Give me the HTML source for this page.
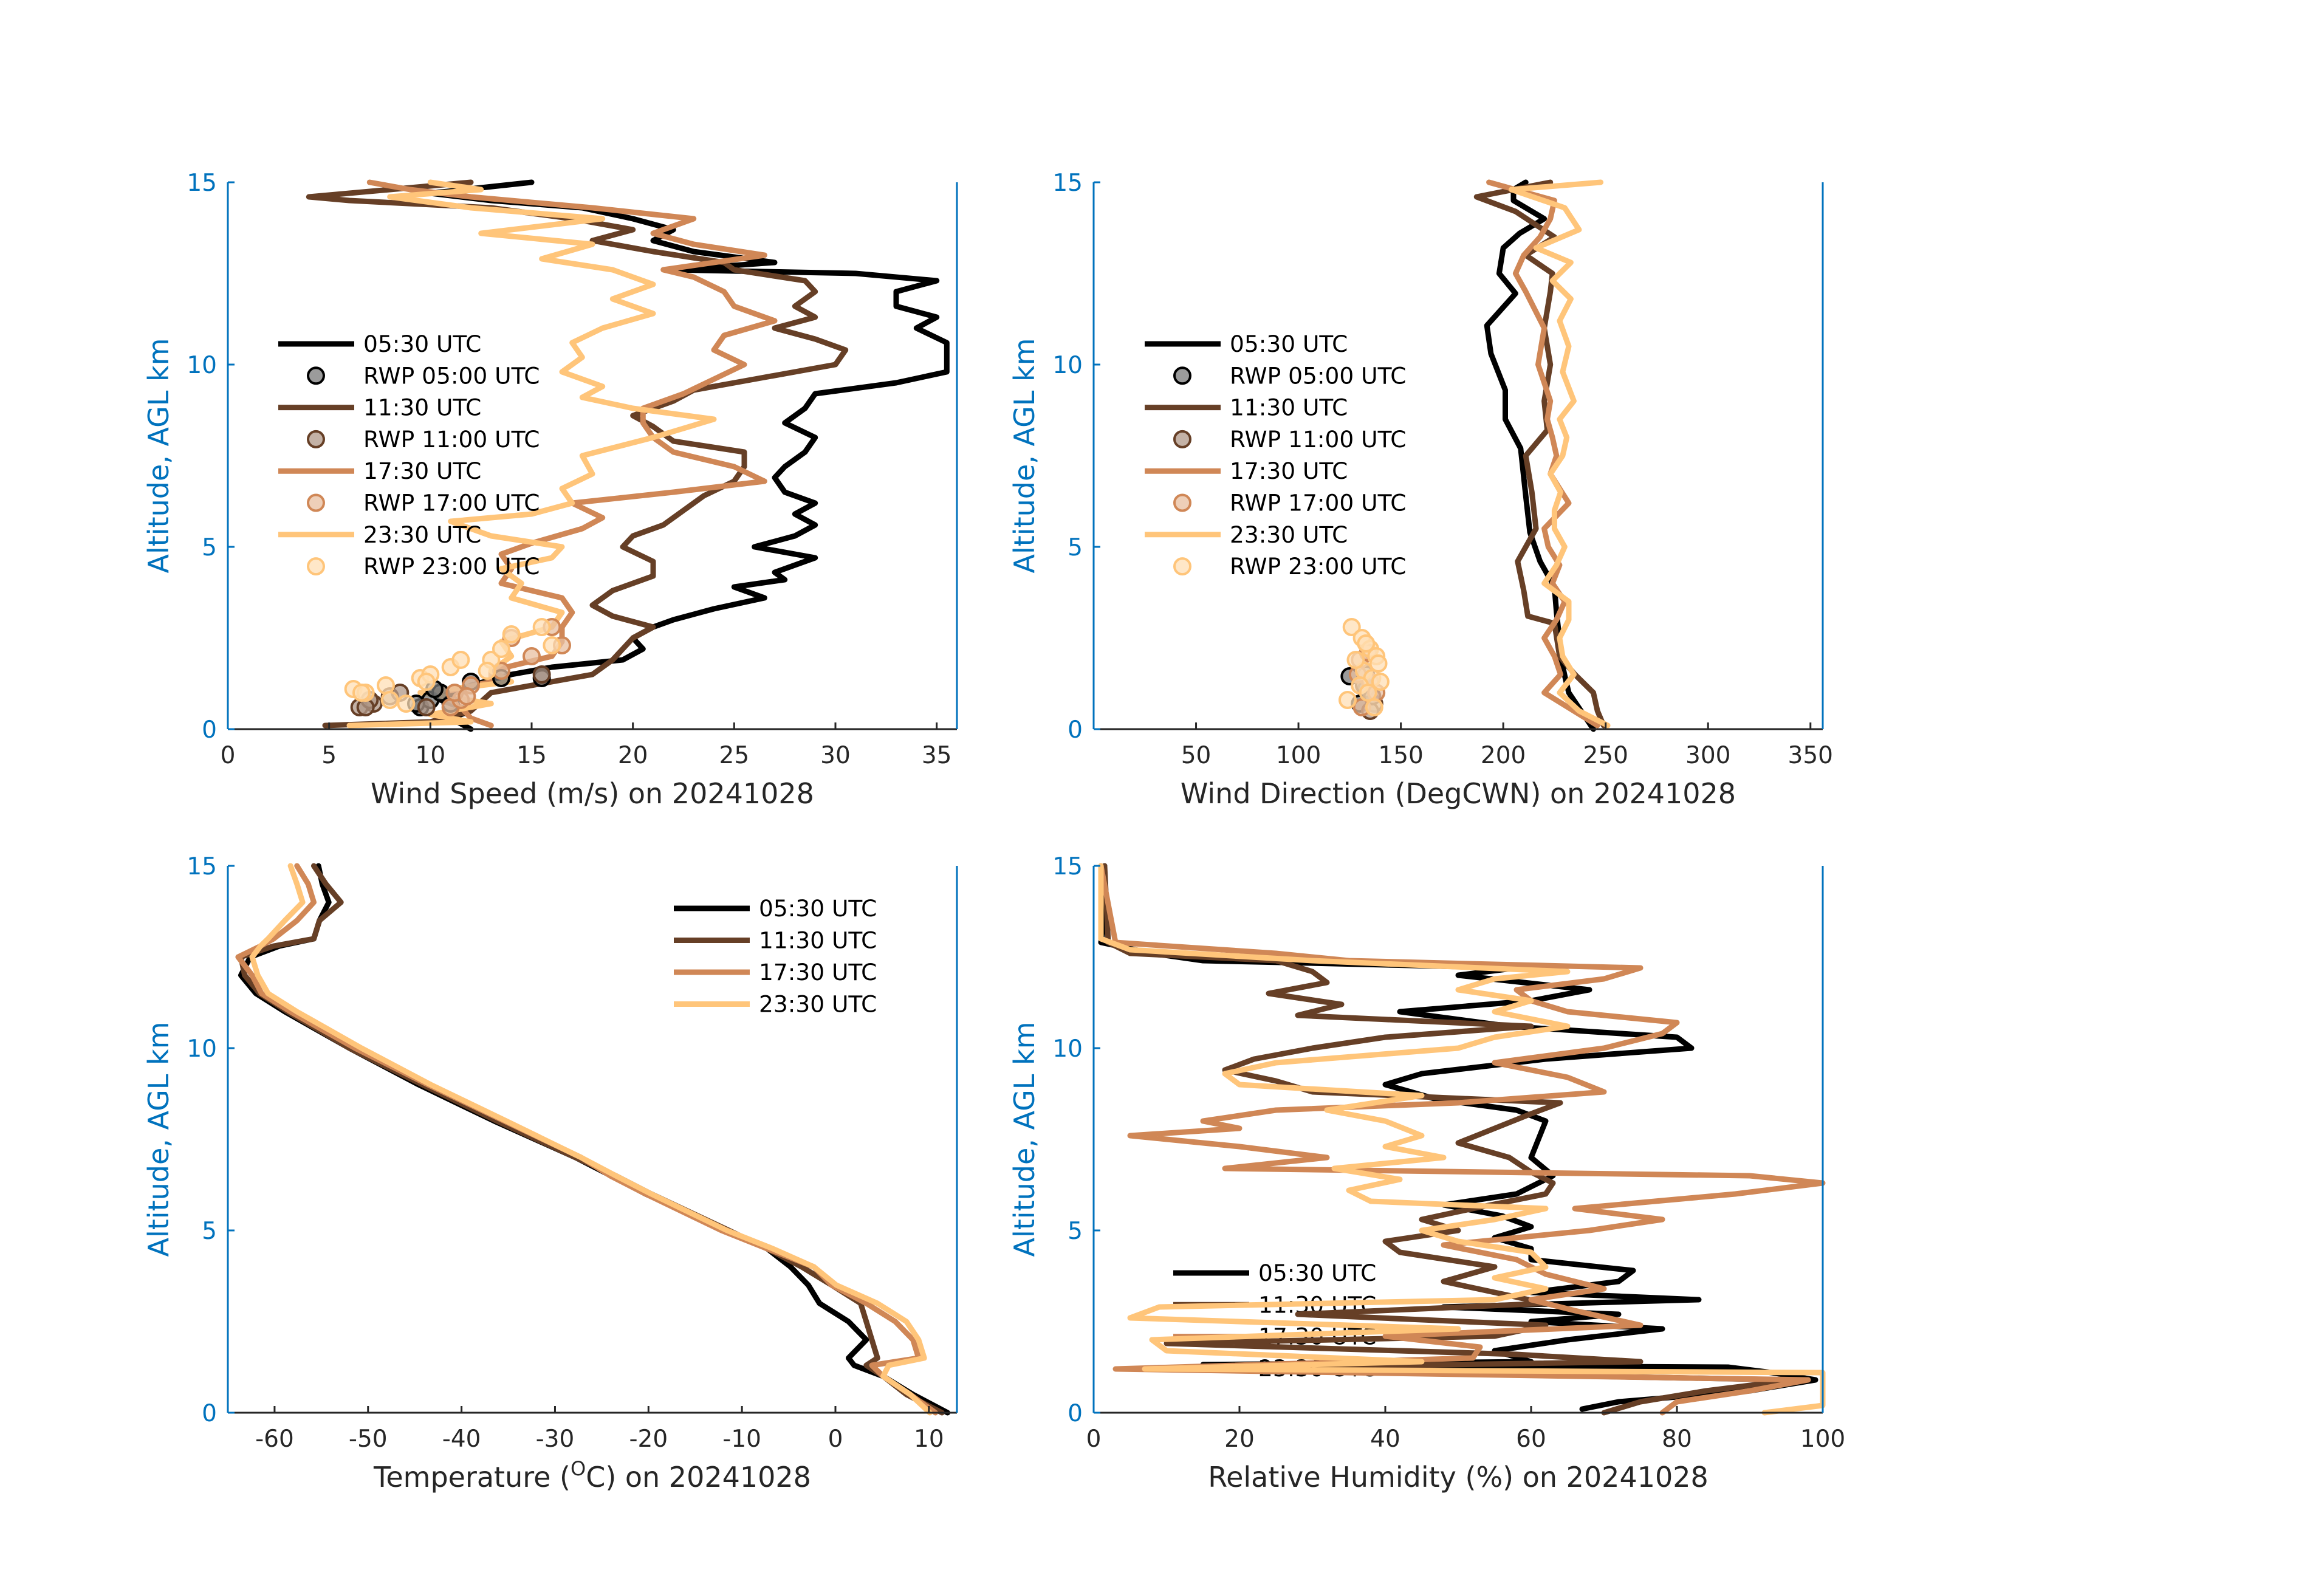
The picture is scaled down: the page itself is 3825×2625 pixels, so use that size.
<!DOCTYPE html>
<html><head><meta charset="utf-8">
<style>
html,body{margin:0;padding:0;background:#fff;}
svg{display:block;font-family:"DejaVu Sans","Liberation Sans",sans-serif;}
</style></head>
<body>
<svg id="fig" width="3825" height="2625" viewBox="0 0 3825 2625" xmlns="http://www.w3.org/2000/svg">
<rect width="3825" height="2625" fill="#fff"/>
</svg>
<script>
// ---- Series colors ----
const C0530='#000000', C1130='#663f26', C1730='#d08756', C2330='#ffc57a';

// ---- Wind speed (m/s) ----
const wsAlt0530=[0,0.3,0.5,0.8,1.2,1.5,1.7,1.9,2.2,2.5,2.8,3.0,3.3,3.6,3.9,4.1,4.3,4.7,5.0,5.3,5.6,5.9,6.2,6.5,6.9,7.2,7.6,8.0,8.4,8.8,9.2,9.5,9.8,10.2,10.6,11.0,11.3,11.6,12.0,12.3,12.5,12.6,12.8,13.1,13.4,13.7,14.0,14.3,14.5,14.7,15.0];
const wsVal0530=[12,11,12,10.5,12,14,16,19.5,20.5,20,21,22,24,26.5,25,27.5,27,29,26,28,29,28,29,27.5,27,27.5,28.5,29,27.5,28.5,29,33,35.5,35.5,35.5,34,35,33,33,35,31,22,27,23,21,22,20,17.5,13,10,15];
const wsAlt1130=[0.1,0.2,0.5,1.0,1.2,1.5,1.9,2.2,2.5,2.8,3.1,3.4,3.8,4.2,4.6,5.0,5.3,5.6,6.0,6.4,6.8,7.2,7.6,7.9,8.3,8.6,9.0,9.3,9.6,10.0,10.4,10.7,11.0,11.3,11.6,12.0,12.3,12.6,12.8,13.1,13.4,13.7,14.0,14.3,14.5,14.6,14.8,15.0];
const wsVal1130=[4.8,10,12,13,15,18,19,19.5,20,21,19,18,19,21,21,19.5,20,21.5,22.5,23.5,25,25.5,25.5,22,21,20,22,23,26,30,30.5,29,27,29,28,29,28.5,25,24.5,21,18,20,17,13,6,4,8,12];
const wsAlt1730=[0.1,0.3,0.6,1.0,1.3,1.6,2.0,2.4,2.8,3.2,3.6,4.0,4.4,4.8,5.1,5.5,5.8,6.2,6.5,6.8,7.2,7.6,8.0,8.4,8.8,9.2,9.6,10.0,10.4,10.8,11.2,11.6,12.0,12.4,12.6,13.0,13.3,13.6,14.0,14.3,14.6,14.8,15.0];
const wsVal1730=[13,12,11.5,10.5,13,13,16,16.5,16.5,17,16.5,13.5,14,13.5,15,17.5,18.5,17,22,26.5,25,22,21,20.5,20.5,22.5,24,25.5,24,24.5,27,25,24.5,23,21.5,26.5,23,21,23,18,12,9,7];
const wsAlt2330=[0.1,0.2,0.4,0.7,1.0,1.3,1.6,2.0,2.4,2.8,3.2,3.6,4.0,4.4,4.7,5.0,5.3,5.7,5.9,6.2,6.6,7.0,7.5,8.0,8.5,8.8,9.1,9.4,9.8,10.2,10.6,11.0,11.4,11.8,12.2,12.6,12.9,13.3,13.6,14.0,14.3,14.6,14.8,15.0];
const wsVal2330=[6,12,10,13,9.5,14,13,14,13.5,16,16.5,14,14.5,13.5,16,16.5,13,11,15,17,16.5,18,17.5,21,24,20,17.5,18.5,16.5,17.5,17,18.5,21,19,21,19,15.5,18,12.5,18.5,12,8,12.5,10];
// RWP wind speed
const rwpSpd0500=[9.5,10,11,10.5,12,13.5,15.5,10.2,9.3], rwpSAlt0500=[0.6,0.8,0.7,1.0,1.3,1.4,1.4,1.1,0.7];
const rwpSpd1100=[6.5,7.2,8,8.5,7,6.8,15.5,9.8], rwpSAlt1100=[0.6,0.7,0.9,1.0,0.8,0.6,1.5,0.6];
const rwpSpd1700=[11,11.5,11.2,12,13.5,15,16.5,14,16,11.8], rwpSAlt1700=[0.6,0.8,1.0,1.2,1.6,2.0,2.3,2.5,2.8,0.9];
const rwpSpd2300=[6.2,6.8,7.8,8,9.5,10,11,11.5,13,13.5,14,15.5,16,8.8,12.8,6.6,9.8], rwpSAlt2300=[1.1,1.0,1.2,0.8,1.4,1.5,1.7,1.9,1.9,2.2,2.6,2.8,2.3,0.7,1.6,1.0,1.3];

// ---- Wind direction (deg) ----
const wdAlt0530=[0,0.5,1.0,1.47,2.0,2.45,3.2,3.9,4.6,5.4,6.4,7.7,8.5,9.3,10.3,11.07,11.95,12.5,13.2,13.6,14.0,14.5,14.8,15.0];
const wdVal0530=[244,238,232,230,228,227.5,226,225,218,213,211,208.5,201,201,194,192,206,198,200,208,220,205,205,211];
const wdAlt1130=[0.1,0.5,1.0,1.5,2.0,2.9,3.1,3.8,4.6,5.5,6.5,7.5,8.2,9.0,10.0,11.0,12.0,12.5,13.0,13.5,14.2,14.6,15.0];
const wdVal1130=[249,246,244,235,227.5,225,212,210,207,216,214,211,221.5,220,223,220,223,224,211,225,206,187,223];
const wdAlt1730=[0.1,0.5,1.0,1.5,2.0,2.5,3.0,3.5,4.0,4.5,5.0,5.5,6.2,7.0,7.5,8.0,8.5,9.0,10.0,11.0,12.0,12.5,13.0,13.5,14.0,14.5,15.0];
const wdVal1730=[246,234.5,220,228,225,220,226,230,224,227.5,222,220,232,223,226,224,221.5,223,217,220,211,206,210,218,223,225,193];
const wdAlt2330=[0.1,0.5,1.0,1.5,2.0,2.5,3.0,3.5,4.0,4.5,5.0,5.5,6.0,6.5,7.0,7.5,8.0,8.5,9.0,9.8,10.5,11.2,11.8,12.3,12.8,13.2,13.7,14.3,14.8,15.0];
const wdVal2330=[251,237,227.5,234.5,229,227.5,232,232,220,226,230,225,225,228,223,229,231,227.5,234.5,229,232,227.5,233,224,233,216,237,230,204,247.6];
// RWP direction
const rwpDir0500=[125,130,133], rwpDAlt0500=[1.45,0.7,1.1];
const rwpDir1100=[132,137,135,133,136], rwpDAlt1100=[1.2,0.7,0.5,1.5,0.9];
const rwpDir1700=[130,135,131,138,129,134], rwpDAlt1700=[1.9,1.3,0.6,1.0,1.5,2.1];
const rwpDir2300=[126,131,135,138,139,132,136,130,124,137,134,128,133,140], rwpDAlt2300=[2.8,2.5,2.2,2.0,1.8,1.6,1.4,1.2,0.8,0.6,1.0,1.9,2.35,1.3];

// ---- Temperature (C) ----
const tAlt=[0,0.5,1.0,1.3,1.5,2.0,2.5,3.0,3.5,4.0,4.5,5.0,6.0,6.5,7.0,8.0,9.0,10.0,11.0,11.5,12.0,12.5,12.8,13.0,13.5,14.0,14.5,15.0];
const tVal0530=[12,8.3,5.1,2.0,1.4,3.3,1.4,-1.7,-2.9,-4.8,-7.3,-11.6,-20.3,-24,-27.8,-36.5,-44.6,-52,-58.9,-62,-63.6,-62.6,-59.5,-55.8,-55.2,-54.2,-54.9,-55.3];
const tVal1130=[11.4,7.6,5.1,3.3,4.5,3.9,3.3,2.7,-0.4,-3.6,-7.3,-11.4,-19.7,-23.5,-27.8,-36.2,-44.2,-52,-58.6,-61.6,-63.2,-63.6,-60.1,-55.8,-55.2,-52.9,-54.5,-55.8];
const tVal1730=[10.7,8.0,5.1,3.9,8.9,8.3,6.4,3.3,-0.4,-2.3,-7.3,-12.2,-20.3,-24.1,-27.2,-35.4,-43.6,-51.4,-58.3,-61.4,-62.4,-63.9,-61.5,-60.1,-57.6,-55.8,-56.4,-57.6];
const tVal2330=[10.1,8.0,5.1,5.7,9.5,8.9,7.6,4.5,0.1,-2.3,-6.7,-11.6,-19.7,-23.5,-27.2,-35.2,-43.3,-50.7,-57.6,-60.7,-61.8,-62.4,-61.5,-60.7,-58.9,-57.0,-57.6,-58.3];

// ---- Relative humidity (%) ----
const rhAlt0530=[0.1,0.3,0.6,0.9,1.1,1.25,1.32,1.4,1.7,2.0,2.3,2.5,2.7,2.9,3.1,3.3,3.6,3.9,4.2,4.5,4.8,5.1,5.4,5.7,6.0,6.5,7.0,7.5,8.0,8.3,8.6,9.0,9.3,9.7,10.0,10.3,10.6,11.0,11.3,11.6,12.0,12.2,12.4,12.6,12.9,13.5,15];
const rhVal0530=[67,72,90,99,93,87,15,60,55,65,78,60,72,48,83,60,72,74,60,60,55,60,56,48,58,63,60,61,62,58,47,40,45,62,82,80,57,42,60,68,50,58,15,8,1,1.5,1.5];
const rhAlt1130=[0,0.3,0.6,0.9,1.2,1.4,1.6,1.9,2.1,2.4,2.7,3.0,3.3,3.6,4.0,4.4,4.7,5.0,5.3,5.6,6.0,6.3,6.6,7.0,7.4,7.8,8.2,8.5,8.8,9.1,9.4,9.7,10.0,10.3,10.6,10.9,11.2,11.5,11.8,12.1,12.4,12.6,12.9,15];
const rhVal1130=[70,75,84,96,12,75,58,10,55,62,28,62,55,48,55,42,40,50,45,52,62,63,60,57,50,55,60,64,30,25,18,22,30,40,60,28,34,24,32,30,25,5,2,1.5];
const rhAlt1730=[0,0.3,0.6,0.9,1.2,1.5,1.8,2.1,2.4,2.8,3.1,3.4,3.8,4.2,4.6,5.0,5.3,5.6,6.0,6.3,6.5,6.7,7.0,7.3,7.6,7.8,8.0,8.3,8.5,8.8,9.2,9.6,10.0,10.4,10.7,11.0,11.3,11.6,11.9,12.2,12.4,12.6,12.9,15];
const rhVal1730=[78,80,90,98,3,52,53,40,75,66,60,70,62,58,48,68,78,66,88,100,90,18,32,20,5,20,15,25,50,70,65,55,70,78,80,65,60,58,70,75,35,25,3,1];
const rhAlt2330=[0,0.2,0.6,0.9,1.1,1.2,1.4,1.7,2.0,2.3,2.6,2.9,3.1,3.4,3.7,4.0,4.4,4.7,5.0,5.3,5.6,5.8,6.1,6.4,6.7,7.0,7.3,7.6,8.0,8.3,8.7,9.0,9.3,9.6,10.0,10.3,10.6,11.0,11.3,11.6,11.9,12.1,12.4,12.7,13.0,15];
const rhVal2330=[92,100,100,100,100,7,45,10,8,50,5,9,55,62,55,62,60,50,45,55,62,38,35,42,33,48,40,45,40,32,45,20,18,25,50,55,65,55,60,50,55,65,30,5,1,1];

// ---- Axis ticks ----
const altTicks=[0,5,10,15];
const wsTicks=[0,5,10,15,20,25,30,35];
const wdTicks=[50,100,150,200,250,300,350];
const tTicks=[-60,-50,-40,-30,-20,-10,0,10];
const rhTicks=[0,20,40,60,80,100];

const LW=9;
const NS='http://www.w3.org/2000/svg';
const svg=document.getElementById('fig');
function mk(tag,attrs,parent){const e=document.createElementNS(NS,tag);for(const k in attrs)e.setAttribute(k,attrs[k]);(parent||svg).appendChild(e);return e;}

function makeAxes(name,x0,y0,w,h,xmin,xmax,xticks,xlabel,isTemp){
  const g=mk('g',{});
  
  
  const sx=v=>x0+(v-xmin)/(xmax-xmin)*w;
  const sy=a=>y0+h-(a/15)*h;
  const clipId='clip-'+name;
  const cp=mk('clipPath',{id:clipId},g);
  mk('rect',{x:x0-20,y:y0-6,width:w+40,height:h+12},cp);
  const plot=mk('g',{'clip-path':'url(#'+clipId+')'},g);
  
  
  const xa=mk('g',{},g);
  
  
  mk('line',{x1:x0,y1:y0+h,x2:x0+w,y2:y0+h,stroke:'#262626','stroke-width':3},xa);
  xticks.forEach(t=>{
    const x=sx(t);
    mk('line',{x1:x,y1:y0+h,x2:x,y2:y0+h-11,stroke:'#262626','stroke-width':3},xa);
    const tx=mk('text',{x:x,y:y0+h+56,'text-anchor':'middle','font-size':39,fill:'#262626'},xa);
    tx.textContent=String(t);
    
    
  });
  const xl=mk('text',{x:x0+w/2,y:y0+h+122,'text-anchor':'middle','font-size':46,fill:'#262626'},g);
  
  
  if(isTemp){
    xl.appendChild(document.createTextNode('Temperature ('));
    const s=mk('tspan',{'baseline-shift':'super','font-size':32},xl);s.textContent='O';
    const r=mk('tspan',{'baseline-shift':'0'},xl);r.textContent='C) on 20241028';
  } else xl.textContent=xlabel;
  const ya=mk('g',{},g);
  
  
  mk('line',{x1:x0,y1:y0,x2:x0,y2:y0+h,stroke:'#0072BD','stroke-width':3},ya);
  mk('line',{x1:x0+w,y1:y0,x2:x0+w,y2:y0+h,stroke:'#0072BD','stroke-width':3},ya);
  altTicks.forEach(t=>{
    const y=sy(t);
    mk('line',{x1:x0,y1:y,x2:x0+11,y2:y,stroke:'#0072BD','stroke-width':3},ya);
    const tx=mk('text',{x:x0-18,y:y+14,'text-anchor':'end','font-size':39,fill:'#0072BD'},ya);
    tx.textContent=t;
    
    
  });
  const yl=mk('text',{x:0,y:0,'text-anchor':'middle','font-size':46,fill:'#0072BD',transform:'translate('+(x0-98)+','+(y0+h/2)+') rotate(-90)'},g);
  yl.textContent='Altitude, AGL km';
  
  
  return {sx,sy,plot,g};
}
function line(ax,vals,alts,color,name){
  const d=vals.map((v,i)=>(i?'L':'M')+ax.sx(v).toFixed(1)+','+ax.sy(alts[i]).toFixed(1)).join(' ');
  const p=mk('path',{d:d,fill:'none',stroke:color,'stroke-width':LW,'stroke-linejoin':'round','stroke-linecap':'round'},ax.plot);
  
  
}
function pts(ax,vals,alts,edge,fill,name){
  vals.forEach((v,i)=>{
    const c=mk('circle',{cx:ax.sx(v),cy:ax.sy(alts[i]),r:13,fill:fill,'fill-opacity':0.75,stroke:edge,'stroke-width':4},ax.plot);
    
    
  });
}
function legend(x,y0,dy,entries,name){
  const g=mk('g',{});
  
  
  entries.forEach((e,i)=>{
    const y=y0+i*dy;
    const it=mk('g',{},g);
    
    
    if(e.type==='line') mk('line',{x1:x,y1:y,x2:x+125,y2:y,stroke:e.c,'stroke-width':LW},it);
    else mk('circle',{cx:x+62,cy:y,r:13,fill:e.f,'fill-opacity':0.75,stroke:e.c,'stroke-width':4},it);
    const t=mk('text',{x:x+140,y:y+13,'font-size':37.5,fill:'#000'},it);
    t.textContent=e.t;
  });
  return g;
}
const F0500='#7a7a7a',F1100='#b09888',F1700='#e8bfa0',F2300='#ffdfb5';
const fullLeg=[
 {type:'line',c:C0530,t:'05:30 UTC'},{type:'pt',c:C0530,f:F0500,t:'RWP 05:00 UTC'},
 {type:'line',c:C1130,t:'11:30 UTC'},{type:'pt',c:C1130,f:F1100,t:'RWP 11:00 UTC'},
 {type:'line',c:C1730,t:'17:30 UTC'},{type:'pt',c:C1730,f:F1700,t:'RWP 17:00 UTC'},
 {type:'line',c:C2330,t:'23:30 UTC'},{type:'pt',c:C2330,f:F2300,t:'RWP 23:00 UTC'}];
const lineLeg=[{type:'line',c:C0530,t:'05:30 UTC'},{type:'line',c:C1130,t:'11:30 UTC'},{type:'line',c:C1730,t:'17:30 UTC'},{type:'line',c:C2330,t:'23:30 UTC'}];

const a1=makeAxes('wind-speed-panel',375,300,1200,900,0,36,wsTicks,'Wind Speed (m/s) on 20241028');
line(a1,wsVal0530,wsAlt0530,C0530,'line-0530');
line(a1,wsVal1130,wsAlt1130,C1130,'line-1130');
line(a1,wsVal1730,wsAlt1730,C1730,'line-1730');
line(a1,wsVal2330,wsAlt2330,C2330,'line-2330');
pts(a1,rwpSpd0500,rwpSAlt0500,C0530,F0500,'rwp-0500-point');
pts(a1,rwpSpd1100,rwpSAlt1100,C1130,F1100,'rwp-1100-point');
pts(a1,rwpSpd1700,rwpSAlt1700,C1730,F1700,'rwp-1700-point');
pts(a1,rwpSpd2300,rwpSAlt2300,C2330,F2300,'rwp-2300-point');
legend(458,566,52.3,fullLeg,'wind-speed-legend');

const a2=makeAxes('wind-direction-panel',1800,300,1200,900,0,356,wdTicks,'Wind Direction (DegCWN) on 20241028');
line(a2,wdVal0530,wdAlt0530,C0530,'line-0530');
line(a2,wdVal1130,wdAlt1130,C1130,'line-1130');
line(a2,wdVal1730,wdAlt1730,C1730,'line-1730');
line(a2,wdVal2330,wdAlt2330,C2330,'line-2330');
pts(a2,rwpDir0500,rwpDAlt0500,C0530,F0500,'rwp-0500-point');
pts(a2,rwpDir1100,rwpDAlt1100,C1130,F1100,'rwp-1100-point');
pts(a2,rwpDir1700,rwpDAlt1700,C1730,F1700,'rwp-1700-point');
pts(a2,rwpDir2300,rwpDAlt2300,C2330,F2300,'rwp-2300-point');
legend(1884,566,52.3,fullLeg,'wind-direction-legend');

const a3=makeAxes('temperature-panel',375,1425,1200,900,-65,13,tTicks,'',true);
legend(1109,1495,52.5,lineLeg,'temperature-legend');
line(a3,tVal0530,tAlt,C0530,'line-0530');
line(a3,tVal1130,tAlt,C1130,'line-1130');
line(a3,tVal1730,tAlt,C1730,'line-1730');
line(a3,tVal2330,tAlt,C2330,'line-2330');

const a4=makeAxes('humidity-panel',1800,1425,1200,900,0,100,rhTicks,'Relative Humidity (%) on 20241028');
svg.insertBefore(legend(1931,2095,52.3,lineLeg,'humidity-legend'),a4.g);
line(a4,rhVal0530,rhAlt0530,C0530,'line-0530');
line(a4,rhVal1130,rhAlt1130,C1130,'line-1130');
line(a4,rhVal1730,rhAlt1730,C1730,'line-1730');
line(a4,rhVal2330,rhAlt2330,C2330,'line-2330');
</script>
</body></html>
